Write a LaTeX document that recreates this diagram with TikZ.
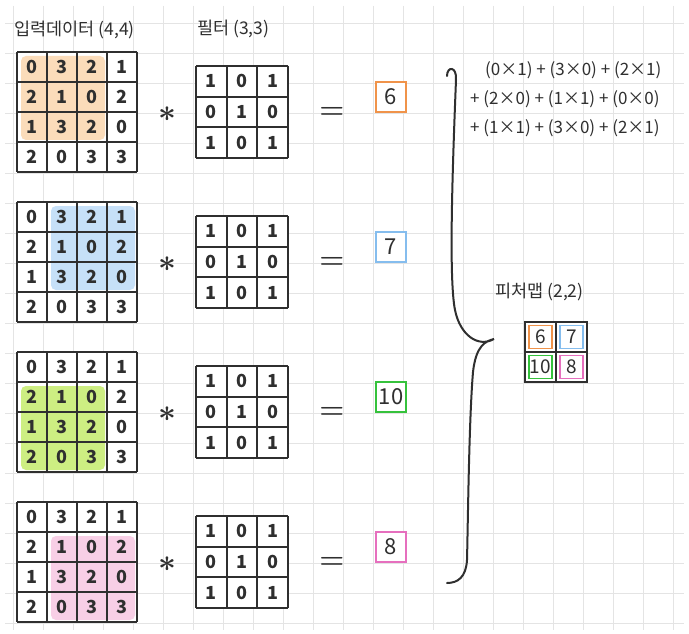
\documentclass[tikz,border=0pt]{standalone}
\usepackage{fontspec}
\setmainfont{Noto Sans CJK KR}
\usetikzlibrary{positioning}
\definecolor{ink}{HTML}{2F2F2F}
\definecolor{paper}{HTML}{E4E4E4}
\definecolor{fillorange}{HTML}{FBDCBA}
\definecolor{lineorange}{HTML}{F0934A}
\definecolor{fillblue}{HTML}{C6E0F8}
\definecolor{lineblue}{HTML}{85BDEE}
\definecolor{fillgreen}{HTML}{CDEE82}
\definecolor{linegreen}{HTML}{35C23C}
\definecolor{fillpink}{HTML}{F8CFE6}
\definecolor{linepink}{HTML}{E66FBE}

\begin{document}
\begin{tikzpicture}[
  x=1pt,
  y=-1pt,
  gridline/.style={paper,line width=0.9pt},
  matline/.style={ink,line width=1.8pt},
  digit/.style={font=\fontsize{18}{19}\selectfont\bfseries,text=ink,inner sep=0pt},
  heading/.style={font=\fontsize{17.5}{19}\selectfont,text=ink,anchor=west,inner sep=0pt},
  sumline/.style={font=\fontsize{17}{19}\selectfont,text=ink,anchor=west,inner sep=0pt},
  opsign/.style={font=\fontsize{24}{26}\selectfont\boldmath,text=ink,inner sep=0pt,scale=1.15},
  startimes/.style={font=\fontsize{24}{26}\selectfont\boldmath,text=ink,inner sep=0pt,scale=1.25},
  resultbox/.style={draw,fill=white,line width=1.3pt,minimum width=30pt,minimum height=30pt,
    inner sep=0pt,font=\fontsize{22}{24}\selectfont,text=ink},
  mapcell/.style={draw,fill=white,line width=1.6pt,minimum size=23pt,
    inner sep=0pt,font=\fontsize{19}{20}\selectfont,text=ink}
]
\useasboundingbox (0,0) rectangle (689,634);
\fill[white] (0,0) rectangle (689,634);

% Grid paper
\foreach \gx in {13,43,...,673}
  \draw[gridline] (\gx,6) -- (\gx,630);
\foreach \gy in {23,53,...,623}
  \draw[gridline] (5,\gy) -- (684,\gy);

% Headings
\node[heading] (inlabel) at (14,30) {입력데이터 (4,4)};
\node[heading] (filterlabel) at (197,29) {필터 (3,3)};

% Four sliding windows
\foreach \g/\hue/\hc/\hr/\res in {0/orange/0/0/6,1/blue/1/0/7,2/green/0/1/10,3/pink/1/1/8}{
  \begin{scope}[shift={(0,150*\g)}]
    % input with highlighted window
    \fill[white] (17,52) rectangle (137,172);
    \fill[fill\hue,rounded corners=5pt] (21+30*\hc,56+30*\hr) rectangle ++(84,84);
    \foreach \k in {0,...,4}{
      \draw[matline] (17+30*\k,52) -- (17+30*\k,172);
      \draw[matline] (17,52+30*\k) -- (137,52+30*\k);
    }
    \foreach \row [count=\r from 0] in {{0,3,2,1},{2,1,0,2},{1,3,2,0},{2,0,3,3}}
      \foreach \v [count=\c from 0] in \row
        \node[digit] (in\g-\r-\c) at (32+30*\c,67+30*\r) {\v};

    % filter
    \fill[white] (196,66) rectangle (288,158);
    \foreach \k in {0,...,3}{
      \draw[matline] (196+30.67*\k,66) -- (196+30.67*\k,158);
      \draw[matline] (196,66+30.67*\k) -- (288,66+30.67*\k);
    }
    \foreach \row [count=\r from 0] in {{1,0,1},{0,1,0},{1,0,1}}
      \foreach \v [count=\c from 0] in \row
        \node[digit] (flt\g-\r-\c) at (211.3+30.67*\c,81.3+30.67*\r) {\v};

    % operators and result
    \node[startimes] (ast\g) at (167,114) {$\ast$};
    \node[opsign] (eq\g) at (332,113) {$=$};
    \node[resultbox,draw=line\hue] (res\g) at (391,97) {\res};
  \end{scope}
}

% Sum for the first window
\node[sumline] (sum1) at (485,70) {(0×1) + (3×0) + (2×1)};
\node[sumline] (sum2) at (470,99) {+ (2×0) + (1×1) + (0×0)};
\node[sumline] (sum3) at (470,128) {+ (1×1) + (3×0) + (2×1)};

% Curly brace gathering the four results
\coordinate (brace tip) at (494,339);
\draw[ink,line width=2pt,line cap=round]
  (447,76) .. controls (447,66) and (457,66) .. (456,80)
  .. controls (452,180) and (449,280) .. (455,310)
  .. controls (460,335) and (478,348) .. (brace tip)
  .. controls (486,341) and (476,345) .. (473,372)
  .. controls (469,420) and (468,520) .. (467,560)
  .. controls (466,577) and (458,583) .. (447,583);

% Feature map
\node[heading] (maplabel) at (495,292) {피처맵 (2,2)};
\draw[ink,fill=white,line width=1.6pt] (525,322) rectangle (587,382);
\draw[ink,line width=1.6pt] (556,322) -- (556,382) (525,352) -- (587,352);
\foreach \hue/\fx/\fy/\v in {orange/540.5/337/6,blue/571.5/337/7,green/540.5/367/10,pink/571.5/367/8}
  \node[mapcell,draw=line\hue] (map\v) at (\fx,\fy) {\v};

\end{tikzpicture}
\end{document}
